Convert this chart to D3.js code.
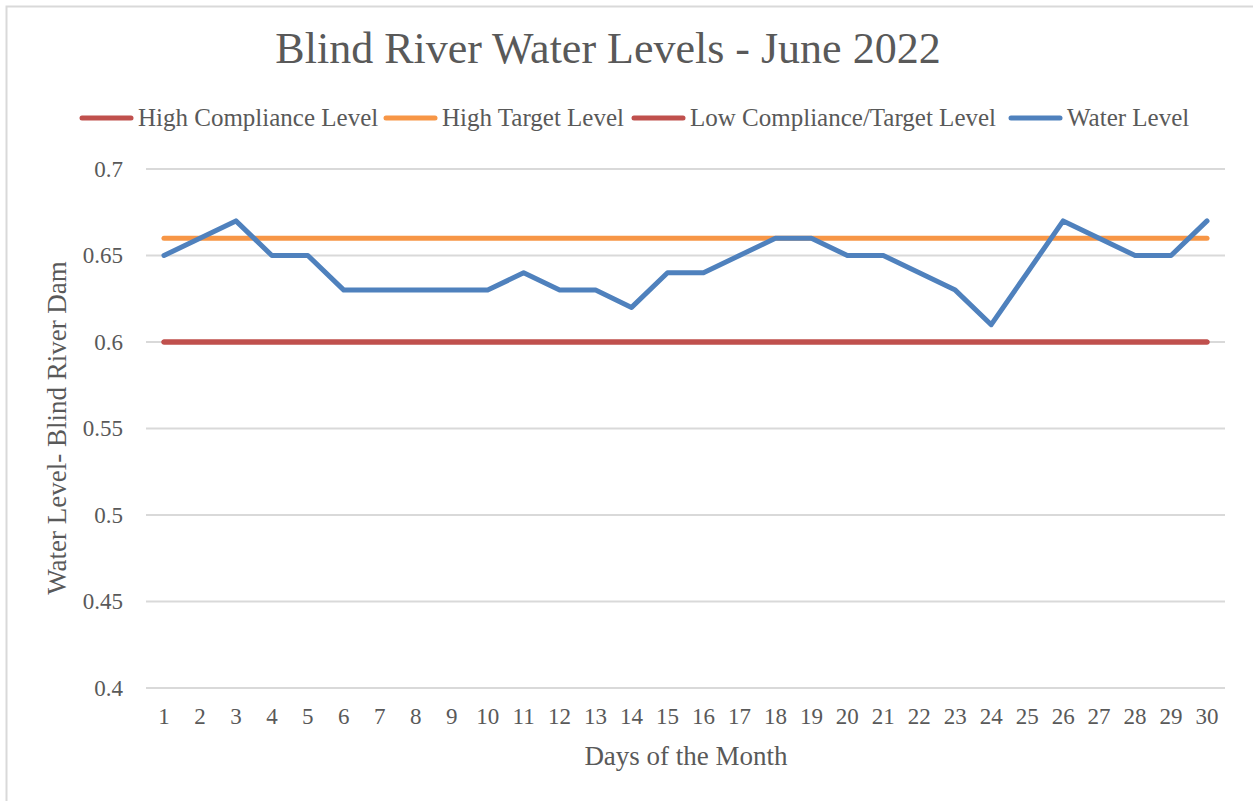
<!DOCTYPE html>
<html>
<head>
<meta charset="utf-8">
<script src="https://cdn.jsdelivr.net/npm/d3@7"></script>
<style>
  body { margin: 0; background: #fff; }
  text { font-family: "Liberation Serif", "DejaVu Serif", serif; fill: #595959; }
</style>
</head>
<body>
<div id="chart"></div>
<script>
// values
var days = d3.range(1, 31);
var waterLevel = [0.65, 0.66, 0.67, 0.65, 0.65, 0.63, 0.63, 0.63, 0.63, 0.63,
                  0.64, 0.63, 0.63, 0.62, 0.64, 0.64, 0.65, 0.66, 0.66, 0.65,
                  0.65, 0.64, 0.63, 0.61, 0.64, 0.67, 0.66, 0.65, 0.65, 0.67];
var highCompliance = days.map(function () { return 0.6; }); // hidden under the low line
var highTarget = days.map(function () { return 0.66; });
var lowCompliance = days.map(function () { return 0.6; });
var yTicks = [0.4, 0.45, 0.5, 0.55, 0.6, 0.65, 0.7];

var seriesNames = ["High Compliance Level", "High Target Level", "Low Compliance/Target Level", "Water Level"];
var seriesColors = ["#C0504D", "#F79646", "#C0504D", "#4F81BD"];
var seriesValues = [highCompliance, highTarget, lowCompliance, waterLevel];

var W = 1253, H = 801;
var margin = {left: 146, right: 28, top: 169, bottom: 113};

var svg = d3.select("#chart").append("svg")
    .attr("width", W)
    .attr("height", H);

// chart frame
svg.append("rect")
    .attr("x", 6.5).attr("y", 6.5)
    .attr("width", W + 20).attr("height", H + 20)
    .attr("fill", "none")
    .attr("stroke", "#D9D9D9")
    .attr("stroke-width", 2);

var x = d3.scaleBand().domain(days).range([margin.left, W - margin.right]);
var y = d3.scaleLinear().domain([0.4, 0.7]).range([H - margin.bottom, margin.top]);

// gridlines
svg.append("g")
    .selectAll("line")
    .data(yTicks)
    .enter().append("line")
    .attr("x1", margin.left).attr("x2", W - margin.right)
    .attr("y1", function (d) { return y(d); })
    .attr("y2", function (d) { return y(d); })
    .attr("stroke", "#D9D9D9")
    .attr("stroke-width", 2);

// y axis
var yAxis = d3.axisLeft(y).tickValues(yTicks).tickSize(0).tickPadding(23)
    .tickFormat(function (d) { return String(+d.toFixed(2)); });
var gy = svg.append("g")
    .attr("transform", "translate(" + margin.left + ",0)")
    .call(yAxis);
gy.select(".domain").remove();
gy.selectAll("text").style("font-size", "23px").attr("fill", "#595959");

// x axis
var xAxis = d3.axisBottom(x).tickSize(0).tickPadding(20);
var gx = svg.append("g")
    .attr("transform", "translate(0," + (H - margin.bottom) + ")")
    .call(xAxis);
gx.select(".domain").remove();
gx.selectAll("text").style("font-size", "23px").attr("fill", "#595959");

// series lines
var line = d3.line()
    .x(function (d, i) { return x(days[i]) + x.bandwidth() / 2; })
    .y(function (d) { return y(d); });

seriesValues.forEach(function (vals, i) {
    svg.append("path")
        .datum(vals)
        .attr("d", line)
        .attr("fill", "none")
        .attr("stroke", seriesColors[i])
        .attr("stroke-width", 5)
        .attr("stroke-linecap", "round")
        .attr("stroke-linejoin", "round");
});

// title
svg.append("text")
    .attr("x", 608)
    .attr("y", 63)
    .attr("text-anchor", "middle")
    .style("font-size", "44px")
    .text("Blind River Water Levels - June 2022");

// legend
var legendX = [80, 384, 632, 1009];
var legend = svg.append("g");
seriesNames.forEach(function (name, i) {
    legend.append("line")
        .attr("x1", legendX[i] + 2).attr("x2", legendX[i] + 51)
        .attr("y1", 118).attr("y2", 118)
        .attr("stroke", seriesColors[i])
        .attr("stroke-width", 5)
        .attr("stroke-linecap", "round");
    legend.append("text")
        .attr("x", legendX[i] + 58)
        .attr("y", 126)
        .style("font-size", "25px")
        .text(name);
});

// axis titles
svg.append("text")
    .attr("x", 686)
    .attr("y", 765)
    .attr("text-anchor", "middle")
    .style("font-size", "27px")
    .text("Days of the Month");

svg.append("text")
    .attr("transform", "translate(66," + 428 + ") rotate(-90)")
    .attr("text-anchor", "middle")
    .style("font-size", "27px")
    .text("Water Level- Blind River Dam");
</script>
</body>
</html>
